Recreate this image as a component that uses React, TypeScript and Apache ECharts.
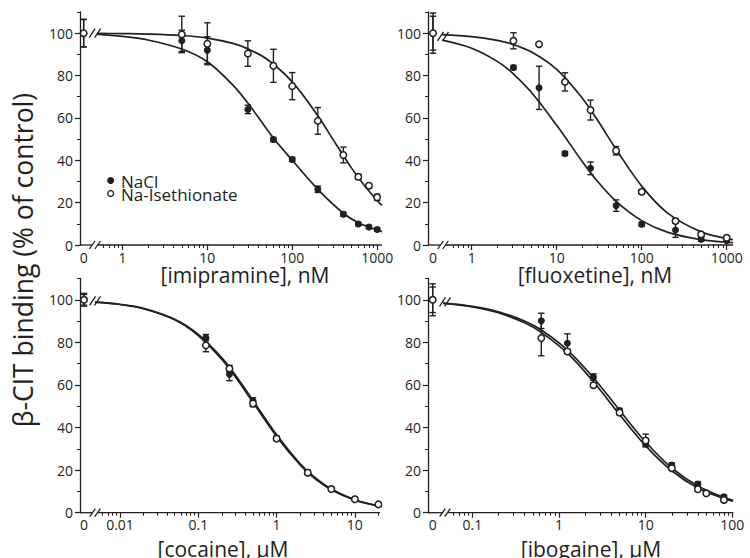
import React, { useEffect, useRef } from "react";
import * as echarts from "echarts";

const FONT = "'Open Sans', 'DejaVu Sans', sans-serif";
const INK = "#231f20";

// ---------- y axis ----------
const Y_TICKS = [0, 20, 40, 60, 80, 100];
const Y_MINOR = [10, 30, 50, 70, 90, 110];

// ---------- Panel A: imipramine, nM ----------
const IMI_TICK_CONC = [0, 1, 10, 100, 1000];
const IMI_TICK_LABELS = ["0", "1", "10", "100", "1000"];
const IMI_CONC = [0, 5, 10, 30, 60, 100, 200, 400, 600, 800, 1000];
const IMI_NACL = [100, 96.4, 92, 64, 49.8, 40.4, 26.3, 14.5, 9.9, 8.5, 7.3];
const IMI_NACL_ERR = [6.5, 5, 6.3, 2, 1, 1, 1.5, 1, 0.8, 0.8, 0.8];
const IMI_ISE = [100, 99.4, 95, 90.4, 84.6, 75, 58.6, 42.5, 32.2, 28, 22.5];
const IMI_ISE_ERR = [6.5, 8.6, 9.9, 6, 7.8, 6.4, 6.3, 3.7, 1.2, 1, 1.5];
const IMI_FIT_NACL_CONC = [0.5, 1, 2, 5, 10, 20, 30, 60, 100, 200, 400, 600, 1000, 1140];
const IMI_FIT_NACL = [99.6, 98.5, 96.8, 92.5, 86.5, 75.5, 67, 50.5, 40, 26.3, 15, 10.5, 7, 6.3];
const IMI_FIT_ISE_CONC = [0.5, 1, 2, 5, 10, 20, 30, 50, 100, 200, 300, 500, 700, 1000, 1140];
const IMI_FIT_ISE = [99.9, 99.8, 99.6, 98.9, 97.7, 95.2, 92.6, 87.8, 77, 61, 50, 36.3, 28.3, 21, 18.7];

// ---------- Panel B: fluoxetine, nM ----------
const FLX_TICK_CONC = [0, 1, 10, 100, 1000];
const FLX_TICK_LABELS = ["0", "1", "10", "100", "1000"];
const FLX_CONC = [0, 3.1, 6.2, 12.5, 25, 50, 100, 250, 500, 1000];
const FLX_NACL = [100, 83.8, 74.2, 43.2, 36.2, 18.6, 9.8, 7.1, 2.7, 2.0];
const FLX_NACL_ERR = [9.5, 1, 10.2, 1, 3, 2.7, 1, 3.5, 1, 0.5];
const FLX_ISE = [100, 96.4, 94.8, 77, 63.7, 44.5, 25.1, 11.3, 5.0, 3.4];
const FLX_ISE_ERR = [8, 3.8, 0.5, 4.3, 4.7, 2, 1, 1, 1, 0.8];
const FLX_FIT_CONC = [0.45, 1, 2, 3, 5, 10, 20, 30, 50, 100, 200, 500, 1000, 1180];
const FLX_FIT_NACL = [96.7, 92.9, 86.7, 81.3, 72.2, 56.5, 39.4, 30.2, 20.6, 11.5, 6.1, 2.5, 1.3, 1.1];
const FLX_FIT_ISE = [99.3, 98.4, 96.6, 94.8, 91.2, 82.9, 69.3, 59.1, 45.2, 27.8, 15.2, 6.2, 3.0, 2.5];

// ---------- Panel C: cocaine, uM ----------
const COC_TICK_CONC = [0, 0.01, 0.1, 1, 10];
const COC_TICK_LABELS = ["0", "0.01", "0.1", "1", "10"];
const COC_CONC = [0, 0.125, 0.25, 0.5, 1, 2.5, 5, 10, 20];
const COC_NACL = [100, 82.2, 65, 52.5, 35, 19, 11.2, 6.4, 3.9];
const COC_NACL_ERR = [3, 1.5, 3, 1.5, 1, 1, 0.8, 0.8, 0.5];
const COC_ISE = [100, 78.6, 67.7, 51.3, 34.8, 18.8, 11.1, 6.3, 3.9];
const COC_ISE_ERR = [2.5, 3, 1.5, 1.5, 1, 1, 0.5, 0.5, 0.5];
const COC_FIT_CONC = [0.0048, 0.01, 0.02, 0.05, 0.1, 0.2, 0.3, 0.5, 1, 2, 3, 5, 10, 20.9];
const COC_FIT_NACL = [98.9, 97.9, 96.0, 90.8, 83.7, 72.7, 64.4, 52.7, 36.6, 23.0, 16.9, 11.1, 6.1, 3.1];
const COC_FIT_ISE = [98.9, 97.8, 95.8, 90.6, 83.2, 72.0, 63.6, 51.8, 35.8, 22.4, 16.4, 10.8, 5.9, 3.0];

// ---------- Panel D: ibogaine, uM ----------
const IBO_TICK_CONC = [0, 0.1, 1, 10, 100];
const IBO_TICK_LABELS = ["0", "0.1", "1", "10", "100"];
const IBO_NACL_CONC = [0, 0.625, 1.25, 2.5, 5, 10, 20, 40, 80];
const IBO_NACL = [100, 90.1, 79.6, 63.7, 48, 32.3, 22.4, 13.5, 7.5];
const IBO_NACL_ERR = [7.5, 3.6, 4.4, 1.5, 1, 1, 1, 1, 0.8];
const IBO_ISE_CONC = [0, 0.625, 1.25, 2.5, 5, 10, 20, 40, 50, 80];
const IBO_ISE = [100, 82, 75.7, 59.9, 47, 33.9, 20.9, 11, 9.1, 6];
const IBO_ISE_ERR = [6, 8.3, 1, 1, 1, 3, 1, 1, 1, 1];
const IBO_FIT_CONC = [0.046, 0.1, 0.2, 0.4, 0.625, 1.25, 2.5, 5, 10, 20, 40, 80, 102];
const IBO_FIT_NACL = [98.4, 96.9, 94.4, 90.0, 85.8, 76.4, 63.4, 48.1, 33.2, 21, 12.5, 7.1, 5.8];
const IBO_FIT_ISE = [98.3, 96.7, 93.9, 89.2, 84.7, 74.9, 61.5, 46.1, 31.4, 19.7, 11.6, 6.6, 5.4];

const NAME_NACL = "NaCl";
const NAME_ISE = "Na-Isethionate";

// ---------- layout of the four panels ----------
const PANELS = [
  {
    left: 80, top: 12, width: 302, height: 233, min: -0.5, max: 3.057, zero: -0.457, brk: [-0.357, -0.292], slashY: 100,
    tickConc: IMI_TICK_CONC, tickLabels: IMI_TICK_LABELS, name: "[imipramine], nM", nameX: 245, nameY: 275,
    nacl: { conc: IMI_CONC, val: IMI_NACL, err: IMI_NACL_ERR, fitC: IMI_FIT_NACL_CONC, fitV: IMI_FIT_NACL },
    ise: { conc: IMI_CONC, val: IMI_ISE, err: IMI_ISE_ERR, fitC: IMI_FIT_ISE_CONC, fitV: IMI_FIT_ISE },
  },
  {
    left: 428, top: 12, width: 305, height: 233, min: -0.514, max: 3.074, zero: -0.455, brk: [-0.367, -0.308], slashY: 98.5,
    tickConc: FLX_TICK_CONC, tickLabels: FLX_TICK_LABELS, name: "[fluoxetine], nM", nameX: 595, nameY: 275,
    nacl: { conc: FLX_CONC, val: FLX_NACL, err: FLX_NACL_ERR, fitC: FLX_FIT_CONC, fitV: FLX_FIT_NACL },
    ise: { conc: FLX_CONC, val: FLX_ISE, err: FLX_ISE_ERR, fitC: FLX_FIT_CONC, fitV: FLX_FIT_ISE },
  },
  {
    left: 80, top: 278.5, width: 300, height: 234.2, min: -2.511, max: 1.321, zero: -2.46, brk: [-2.351, -2.287], slashY: 99.5,
    tickConc: COC_TICK_CONC, tickLabels: COC_TICK_LABELS, name: "[cocaine], \u03bcM", nameX: 223, nameY: 549,
    nacl: { conc: COC_CONC, val: COC_NACL, err: COC_NACL_ERR, fitC: COC_FIT_CONC, fitV: COC_FIT_NACL },
    ise: { conc: COC_CONC, val: COC_ISE, err: COC_ISE_ERR, fitC: COC_FIT_CONC, fitV: COC_FIT_ISE },
  },
  {
    left: 428, top: 278.5, width: 305.3, height: 234.2, min: -1.511, max: 2.011, zero: -1.457, brk: [-1.344, -1.286], slashY: 99,
    tickConc: IBO_TICK_CONC, tickLabels: IBO_TICK_LABELS, name: "[ibogaine], \u03bcM", nameX: 591, nameY: 549,
    nacl: { conc: IBO_NACL_CONC, val: IBO_NACL, err: IBO_NACL_ERR, fitC: IBO_FIT_CONC, fitV: IBO_FIT_NACL },
    ise: { conc: IBO_ISE_CONC, val: IBO_ISE, err: IBO_ISE_ERR, fitC: IBO_FIT_CONC, fitV: IBO_FIT_ISE },
  },
];

const lx = (c: number, zero: number) => (c === 0 ? zero : Math.log10(c));

function renderErr(params: any, api: any) {
  const x = api.value(0);
  const y = api.value(1);
  const e = api.value(2);
  const t = api.coord([x, y + e]);
  const b = api.coord([x, y - e]);
  const st = { stroke: INK, lineWidth: 1.4 };
  const w = 3.2;
  return {
    type: "group",
    children: [
      { type: "line", shape: { x1: t[0], y1: t[1], x2: b[0], y2: b[1] }, style: st },
      { type: "line", shape: { x1: t[0] - w, y1: t[1], x2: t[0] + w, y2: t[1] }, style: st },
      { type: "line", shape: { x1: b[0] - w, y1: b[1], x2: b[0] + w, y2: b[1] }, style: st },
    ],
  };
}

function renderAxisBreak(params: any, api: any) {
  const cs = params.coordSys;
  const a = api.coord([api.value(0), 0]);
  const b = api.coord([api.value(1), 0]);
  const cy = a[1];
  const st = { stroke: INK, lineWidth: 1.3 };
  return {
    type: "group",
    children: [
      { type: "line", shape: { x1: cs.x, y1: cy, x2: a[0], y2: cy }, style: st },
      { type: "line", shape: { x1: b[0], y1: cy, x2: cs.x + cs.width, y2: cy }, style: st },
      { type: "line", shape: { x1: a[0] - 2.8, y1: cy + 4, x2: a[0] + 2.8, y2: cy - 4 }, style: st },
      { type: "line", shape: { x1: b[0] - 2.8, y1: cy + 4, x2: b[0] + 2.8, y2: cy - 4 }, style: st },
    ],
  };
}

function renderCurveSlash(params: any, api: any) {
  const a = api.coord([api.value(0), api.value(2)]);
  const b = api.coord([api.value(1), api.value(2)]);
  const st = { stroke: INK, lineWidth: 1.3 };
  return {
    type: "group",
    children: [
      { type: "line", shape: { x1: a[0] - 3, y1: a[1] + 4.5, x2: a[0] + 3, y2: a[1] - 4.5 }, style: st },
      { type: "line", shape: { x1: b[0] - 3, y1: b[1] + 4.5, x2: b[0] + 3, y2: b[1] - 4.5 }, style: st },
    ],
  };
}

function buildOption() {
  const grid: any[] = [];
  const xAxis: any[] = [];
  const yAxis: any[] = [];
  const series: any[] = [];
  const graphic: any[] = [];

  PANELS.forEach((p, g) => {
    grid.push({ left: p.left, top: p.top, width: p.width, height: p.height, containLabel: false, outerBoundsMode: "none" });
    const labelVals = p.tickConc.map((c) => lx(c, p.zero));
    const majors = p.tickConc.filter((c) => c > 0).map((c) => Math.log10(c));
    const minors: number[] = [];
    for (let d = Math.floor(p.min) - 1; d <= Math.ceil(p.max); d++) {
      for (let k = 2; k <= 9; k++) {
        const u = d + Math.log10(k);
        if (u > p.brk[1] + 0.015 && u < p.max) minors.push(u);
      }
    }
    xAxis.push({
      type: "value", gridIndex: g, min: p.min, max: p.max, position: "bottom",
      axisLine: { show: false, onZero: false }, splitLine: { show: false },
      axisTick: { show: true, customValues: majors, length: 5, lineStyle: { color: INK, width: 1.2 } },
      axisLabel: {
        customValues: labelVals, margin: 5, color: INK, fontSize: 14, fontFamily: FONT,
        formatter: (v: number) => {
          const i = labelVals.findIndex((l) => Math.abs(l - v) < 1e-6);
          return i >= 0 ? p.tickLabels[i] : "";
        },
      },
    });
    xAxis.push({
      type: "value", gridIndex: g, min: p.min, max: p.max, position: "bottom",
      axisLine: { show: false, onZero: false }, splitLine: { show: false },
      axisTick: { show: true, customValues: minors, length: 3, lineStyle: { color: INK, width: 1 } },
      axisLabel: { show: false },
    });
    yAxis.push({
      type: "value", gridIndex: g, min: 0, max: 110, position: "left",
      axisLine: { show: true, onZero: false, lineStyle: { color: INK, width: 1.3 } }, splitLine: { show: false },
      axisTick: { show: true, customValues: Y_TICKS, length: 5, lineStyle: { color: INK, width: 1.2 } },
      axisLabel: { customValues: Y_TICKS, margin: 7, color: INK, fontSize: 14, fontFamily: FONT },
    });
    yAxis.push({
      type: "value", gridIndex: g, min: 0, max: 110, position: "left",
      axisLine: { show: false, onZero: false }, splitLine: { show: false },
      axisTick: { show: true, customValues: Y_MINOR, length: 3, lineStyle: { color: INK, width: 1 } },
      axisLabel: { show: false },
    });

    const xi = 2 * g;
    const yi = 2 * g;
    const fit = (c: number[], v: number[]) => c.map((cc, i) => [Math.log10(cc), v[i]]);
    const pts = (s: any) => s.conc.map((c: number, i: number) => [lx(c, p.zero), s.val[i]]);
    const errs = (s: any) => s.conc.map((c: number, i: number) => [lx(c, p.zero), s.val[i], s.err[i]]);

    [p.nacl, p.ise].forEach((s) => {
      series.push({
        type: "line", xAxisIndex: xi, yAxisIndex: yi, data: fit(s.fitC, s.fitV), smooth: 0.35,
        showSymbol: false, silent: true, lineStyle: { color: INK, width: 1.7 }, z: 2,
      });
    });
    series.push({ type: "custom", xAxisIndex: xi, yAxisIndex: yi, data: [[p.brk[0], p.brk[1]]], renderItem: renderAxisBreak, silent: true, z: 3 });
    series.push({ type: "custom", xAxisIndex: xi, yAxisIndex: yi, data: [[p.brk[0], p.brk[1], p.slashY]], renderItem: renderCurveSlash, silent: true, z: 3 });
    series.push({ type: "custom", xAxisIndex: xi, yAxisIndex: yi, data: errs(p.nacl), renderItem: renderErr, silent: true, z: 4 });
    series.push({ type: "custom", xAxisIndex: xi, yAxisIndex: yi, data: errs(p.ise), renderItem: renderErr, silent: true, z: 4 });
    series.push({
      type: "scatter", name: NAME_NACL, xAxisIndex: xi, yAxisIndex: yi, data: pts(p.nacl),
      symbol: "circle", symbolSize: 7, itemStyle: { color: INK, opacity: 1 }, silent: true, z: 5,
    });
    series.push({
      type: "scatter", name: NAME_ISE, xAxisIndex: xi, yAxisIndex: yi, data: pts(p.ise),
      symbol: "circle", symbolSize: 6.5, itemStyle: { color: "#ffffff", borderColor: INK, borderWidth: 1.5, opacity: 1 }, silent: true, z: 6,
    });

    graphic.push({
      type: "text", x: p.nameX, y: p.nameY,
      style: { text: p.name, fontSize: 21, lineHeight: 16, fontFamily: FONT, fill: INK, textAlign: "center", textVerticalAlign: "middle", align: "center", verticalAlign: "middle" },
    });
  });

  graphic.push({
    type: "text", x: 22.7, y: 260, rotation: Math.PI / 2,
    style: { text: "\u03b2-CIT binding (% of control)", fontSize: 26.5, fontFamily: FONT, fill: INK, textAlign: "center", textVerticalAlign: "middle", align: "center", verticalAlign: "middle" },
  });
  // legend
  graphic.push({ type: "circle", shape: { cx: 110.7, cy: 180.5, r: 3.5 }, style: { fill: INK } });
  graphic.push({ type: "circle", shape: { cx: 110.7, cy: 193.5, r: 2.9 }, style: { fill: "#fff", stroke: INK, lineWidth: 1.4 } });
  graphic.push({
    type: "text", x: 121, y: 181,
    style: { text: NAME_NACL, fontSize: 17, lineHeight: 12.5, fontFamily: FONT, fill: INK, textAlign: "left", textVerticalAlign: "middle", align: "left", verticalAlign: "middle" },
  });
  graphic.push({
    type: "text", x: 121, y: 194,
    style: { text: NAME_ISE, fontSize: 17, lineHeight: 12.5, fontFamily: FONT, fill: INK, textAlign: "left", textVerticalAlign: "middle", align: "left", verticalAlign: "middle" },
  });

  return { animation: false, backgroundColor: "#fff", grid, xAxis, yAxis, series, graphic };
}

export default function App() {
  const ref = useRef<HTMLDivElement>(null);
  useEffect(() => {
    if (!ref.current) return;
    const chart = echarts.init(ref.current, undefined, { renderer: "svg" });
    chart.setOption(buildOption() as any);
    return () => chart.dispose();
  }, []);
  return <div ref={ref} style={{ position: "absolute", left: 0, top: 0, width: 750, height: 558 }} />;
}
